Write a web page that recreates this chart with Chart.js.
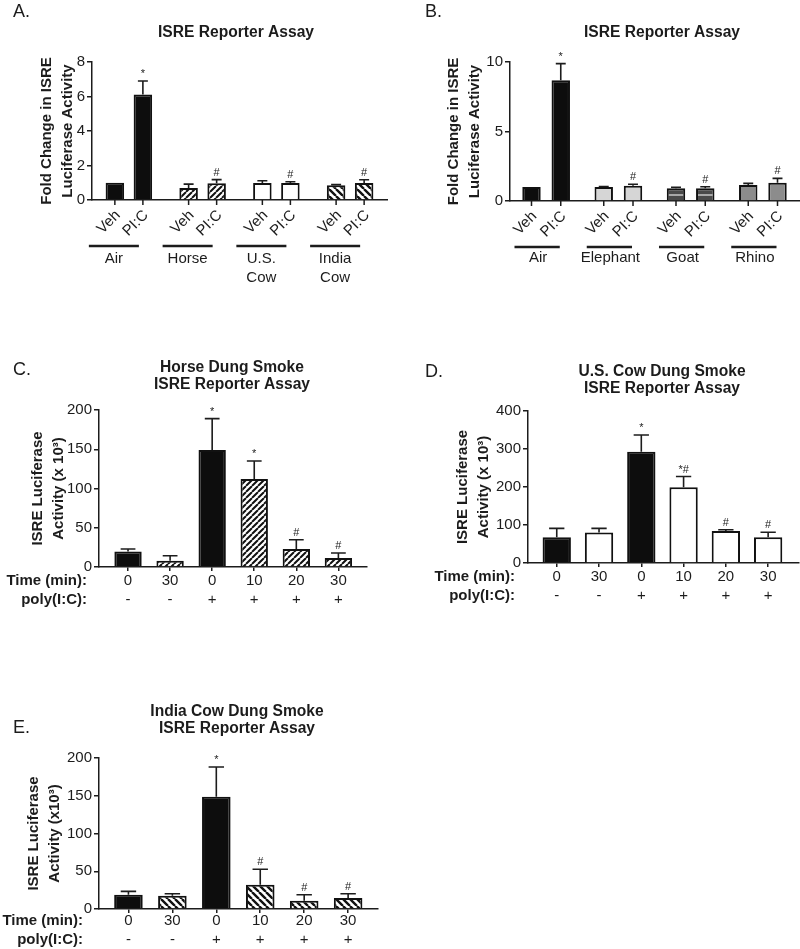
<!DOCTYPE html>
<html><head><meta charset="utf-8">
<script src="https://cdn.jsdelivr.net/npm/chart.js@4.4.0/dist/chart.umd.min.js"></script>
<style>
html,body{margin:0;padding:0;background:#fff;}
#wrap{position:relative;width:800px;height:949px;overflow:hidden;background:#fff;}
canvas{position:absolute;}
</style></head><body>
<div id="wrap">
<canvas id="cA" width="400" height="290" style="left:0;top:0;width:400px;height:290px"></canvas>
<canvas id="cB" width="400" height="290" style="left:400px;top:0;width:400px;height:290px"></canvas>
<canvas id="cC" width="400" height="320" style="left:0;top:300px;width:400px;height:320px"></canvas>
<canvas id="cD" width="400" height="320" style="left:400px;top:300px;width:400px;height:320px"></canvas>
<canvas id="cE" width="400" height="309" style="left:0;top:640px;width:400px;height:309px"></canvas>
</div>
<script>
// ================= DATA =================
const treatLabels = ['Veh', 'PI:C'];

// Panel A
const groupsA = ['Air', 'Horse', ['U.S.', 'Cow'], ['India', 'Cow']];
const vehA = [1.0, 0.70, 0.98, 0.85];
const vehErrA = [0, 0.22, 0.14, 0.04];
const picA = [6.12, 0.97, 0.98, 0.98];
const picErrA = [0.78, 0.21, 0.08, 0.19];
const vehSigA = ['', '', '', ''];
const picSigA = ['*', '#', '#', '#'];
const yTicksA = [0, 2, 4, 6, 8];

// Panel B
const groupsB = ['Air', 'Elephant', 'Goat', 'Rhino'];
const vehB = [1.0, 1.0, 0.91, 1.15];
const vehErrB = [0, 0.04, 0.08, 0.12];
const picB = [8.68, 1.10, 0.91, 1.32];
const picErrB = [1.20, 0.10, 0.12, 0.31];
const vehSigB = ['', '', '', ''];
const picSigB = ['*', '#', '#', '#'];
const yTicksB = [0, 5, 10];

// Panels C, D, E (shared x labels)
const timeLabels = ['0', '30', '0', '10', '20', '30'];
const polyLabels = ['-', '-', '+', '+', '+', '+'];

const valuesC = [19.9, 8.1, 149, 112, 22.9, 11.4];
const errC = [3.0, 6.3, 40, 23, 11.8, 6.4];
const sigC = ['', '', '*', '*', '#', '#'];
const yTicksC = [0, 50, 100, 150, 200];

const valuesD = [68, 80.5, 293, 199.5, 84, 68];
const errD = [23, 10.5, 44, 28, 3.5, 13];
const sigD = ['', '', '*', '*#', '#', '#'];
const yTicksD = [0, 100, 200, 300, 400];

const valuesE = [18.9, 17.6, 148.6, 32, 11, 14.5];
const errE = [4.4, 2.6, 39.4, 20.7, 7.9, 5.7];
const sigE = ['', '', '*', '#', '#', '#'];
const yTicksE = [0, 50, 100, 150, 200];

// ================= STYLE =================
const FONT = "'Liberation Sans', Arial, Helvetica, sans-serif";
const INK = '#1c1c1c';
const EDGE = '#111111';
const BLACK = '#0d0d0d';
Chart.defaults.font.family = FONT;
Chart.defaults.color = INK;

function hatch(dir, size, lw) {
  const c = document.createElement('canvas');
  c.width = size; c.height = size;
  const g = c.getContext('2d');
  g.fillStyle = '#ffffff'; g.fillRect(0, 0, size, size);
  g.strokeStyle = '#111111'; g.lineWidth = lw;
  g.beginPath();
  for (let k = -1; k <= 1; k++) {
    if (dir === '/') { g.moveTo(k * size, size); g.lineTo(k * size + size, 0); }
    else { g.moveTo(k * size, 0); g.lineTo(k * size + size, size); }
  }
  g.stroke();
  return g.createPattern(c, 'repeat');
}
function stripes() {
  const c = document.createElement('canvas');
  c.width = 6; c.height = 6;
  const g = c.getContext('2d');
  g.fillStyle = '#4a4a4a'; g.fillRect(0, 0, 6, 6);
  g.fillStyle = '#a8a8a8'; g.fillRect(0, 2, 6, 2);
  return g.createPattern(c, 'repeat');
}
const FWD = hatch('/', 6, 2);
const BACK = hatch('\\', 7, 2.4);
const GOAT = stripes();
const LIGHT = '#d6d6d6';
const MID = '#8c8c8c';
const WHITE = '#ffffff';

// ================= PLUGINS =================
const errPlugin = {
  id: 'errbars',
  afterDatasetsDraw(chart) {
    const ctx = chart.ctx, ys = chart.scales.y;
    chart.data.datasets.forEach((ds, di) => {
      const meta = chart.getDatasetMeta(di);
      meta.data.forEach((el, i) => {
        const raw = ds.data[i];
        const v = (typeof raw === 'object') ? raw.y : raw;
        const e = ds.errors ? ds.errors[i] : 0;
        const top = ys.getPixelForValue(v + e);
        ctx.save();
        if (e > 0) {
          const hw = el.width * 0.27;
          ctx.strokeStyle = INK; ctx.lineWidth = 1.6;
          ctx.beginPath();
          ctx.moveTo(el.x, el.y); ctx.lineTo(el.x, top);
          ctx.moveTo(el.x - hw, top); ctx.lineTo(el.x + hw, top);
          ctx.stroke();
        }
        const s = ds.sig ? ds.sig[i] : '';
        if (s) {
          ctx.fillStyle = INK; ctx.font = '11px ' + FONT;
          ctx.textAlign = 'center'; ctx.textBaseline = 'middle';
          ctx.fillText(s, el.x, top - 7);
        }
        ctx.restore();
      });
    });
  }
};

const decor = {
  id: 'decor',
  afterDraw(chart, args, o) {
    const ctx = chart.ctx, ca = chart.chartArea, xs = chart.scales.x;
    ctx.save();
    ctx.fillStyle = INK; ctx.strokeStyle = INK;
    if (o.letter) {
      ctx.font = '18px ' + FONT; ctx.textAlign = 'left'; ctx.textBaseline = 'middle';
      ctx.fillText(o.letter.text, o.letter.x, o.letter.y);
    }
    if (o.title) {
      ctx.font = 'bold 15.6px ' + FONT; ctx.textAlign = 'center'; ctx.textBaseline = 'middle';
      o.title.lines.forEach((t, i) => ctx.fillText(t, o.title.x, o.title.y + i * 17));
    }
    if (o.groups) {
      const metas = [chart.getDatasetMeta(0), chart.getDatasetMeta(1)];
      ctx.lineWidth = 1.5;
      metas.forEach(m => m.data.forEach(el => {
        ctx.beginPath(); ctx.moveTo(el.x, ca.bottom); ctx.lineTo(el.x, ca.bottom + 5); ctx.stroke();
      }));
      ctx.font = '15px ' + FONT; ctx.textAlign = 'right'; ctx.textBaseline = 'middle';
      metas.forEach((m, di) => m.data.forEach(el => {
        ctx.save();
        ctx.translate(el.x + 3, ca.bottom + 13);
        ctx.rotate(-Math.PI / 4);
        ctx.fillText(chart.data.datasets[di].label, 0, 0);
        ctx.restore();
      }));
      ctx.lineWidth = 2.6;
      metas[0].data.forEach((el, i) => {
        const y = ca.bottom + o.groups.dy;
        ctx.beginPath();
        ctx.moveTo(el.x + o.groups.from, y);
        ctx.lineTo(metas[1].data[i].x + o.groups.to, y);
        ctx.stroke();
      });
    }
    if (o.rows) {
      const tl = xs.options.grid.tickLength, pad = xs.options.ticks.padding, lh = 19;
      ctx.font = 'bold 15px ' + FONT; ctx.textAlign = 'right'; ctx.textBaseline = 'middle';
      o.rows.labels.forEach((t, i) => ctx.fillText(t, o.rows.x, ca.bottom + tl + pad + lh / 2 + i * lh));
    }
    ctx.restore();
  }
};

function yAxis(ticksArr, title, titlePad, width) {
  return {
    min: 0, max: ticksArr[ticksArr.length - 1],
    afterBuildTicks: s => { s.ticks = ticksArr.map(v => ({value: v})); },
    ticks: {font: {size: 15}, color: INK, padding: 2},
    grid: {display: true, drawOnChartArea: false, drawTicks: true, tickLength: 5, color: INK, lineWidth: 1.5},
    border: {display: true, color: INK, width: 1.5},
    title: {display: true, text: title, color: INK,
            font: {size: 15, weight: 'bold', lineHeight: '21px'},
            padding: {top: titlePad, bottom: 0}},
    afterFit: s => { s.width = width; }
  };
}

function groupChart(id, o) {
  const ds = (label, data, errors, sig) => ({
    label, data, errors, sig,
    backgroundColor: o.fills, borderColor: EDGE, borderWidth: 2,
    categoryPercentage: o.cat, barPercentage: o.bar
  });
  return new Chart(document.getElementById(id), {
    type: 'bar',
    data: {
      labels: o.groups,
      datasets: [ds(treatLabels[0], o.veh, o.vehErr, o.vehSig), ds(treatLabels[1], o.pic, o.picErr, o.picSig)]
    },
    options: {
      responsive: false, animation: false, devicePixelRatio: 1,
      layout: {padding: {left: 0, top: o.top, right: o.right, bottom: 0}},
      plugins: {legend: {display: false}, tooltip: {enabled: false}, decor: o.decor},
      scales: {
        x: {
          type: 'category',
          grid: {display: false},
          border: {display: true, color: INK, width: 1.5},
          ticks: {font: {size: 15, lineHeight: '19px'}, color: INK, padding: o.labelPad, labelOffset: o.labelOffset,
                  maxRotation: 0, minRotation: 0, autoSkip: false},
          afterFit: s => { s.height = o.xHeight; s.paddingLeft = 0; s.paddingRight = 0; }
        },
        y: yAxis(o.yTicks, ['Fold Change in ISRE', 'Luciferase Activity'], o.titlePad, o.yWidth)
      }
    },
    plugins: [errPlugin, decor]
  });
}

function timeChart(id, o) {
  return new Chart(document.getElementById(id), {
    type: 'bar',
    data: {
      datasets: [{
        label: o.label,
        data: o.values.map((v, i) => ({x: i, y: v})),
        errors: o.errs, sig: o.sig,
        backgroundColor: o.fills, borderColor: EDGE, borderWidth: 2,
        categoryPercentage: 1, barPercentage: o.bar
      }]
    },
    options: {
      responsive: false, animation: false, devicePixelRatio: 1,
      layout: {padding: {left: 0, top: o.top, right: o.right, bottom: 0}},
      plugins: {legend: {display: false}, tooltip: {enabled: false}, decor: o.decor},
      scales: {
        x: {
          type: 'linear', min: o.xMin, max: o.xMax, offset: false,
          afterBuildTicks: s => { s.ticks = timeLabels.map((_, i) => ({value: i})); },
          grid: {display: true, offset: false, drawOnChartArea: false, drawTicks: true, tickLength: 4, color: INK, lineWidth: 1.5},
          border: {display: true, color: INK, width: 1.5},
          ticks: {font: {size: 15, lineHeight: '19px'}, color: INK, padding: o.xPad,
                  maxRotation: 0, minRotation: 0, autoSkip: false,
                  callback: v => [timeLabels[v], polyLabels[v]]},
          afterFit: s => { s.height = o.xHeight; s.paddingLeft = 0; s.paddingRight = 0; }
        },
        y: yAxis(o.yTicks, o.yTitle, o.titlePad, o.yWidth)
      }
    },
    plugins: [errPlugin, decor]
  });
}

// ================= CHARTS =================
groupChart('cA', {
  groups: groupsA, veh: vehA, vehErr: vehErrA, vehSig: vehSigA, pic: picA, picErr: picErrA, picSig: picSigA,
  fills: [BLACK, FWD, WHITE, BACK], cat: 0.76, bar: 0.66,
  top: 62, right: 13, xHeight: 90, yWidth: 92, titlePad: 36.5, labelOffset: -15, labelPad: 41, yTicks: yTicksA,
  decor: {letter: {text: 'A.', x: 13, y: 12}, title: {lines: ['ISRE Reporter Assay'], x: 236, y: 33},
          groups: {from: -26, to: -4, dy: 46}}
});

groupChart('cB', {
  groups: groupsB, veh: vehB, vehErr: vehErrB, vehSig: vehSigB, pic: picB, picErr: picErrB, picSig: picSigB,
  fills: [BLACK, LIGHT, GOAT, MID], cat: 0.81, bar: 0.63,
  top: 62, right: 1, xHeight: 89, yWidth: 110, titlePad: 43, labelOffset: -8, labelPad: 39, yTicks: yTicksB,
  decor: {letter: {text: 'B.', x: 25, y: 12}, title: {lines: ['ISRE Reporter Assay'], x: 262, y: 33},
          groups: {from: -17, to: -1, dy: 46}}
});

const rowLabels = ['Time (min):', 'poly(I:C):'];

timeChart('cC', {
  label: 'Horse Dung Smoke', values: valuesC, errs: errC, sig: sigC,
  fills: [BLACK, FWD, BLACK, FWD, FWD, FWD], bar: 0.65,
  top: 110, right: 33, xHeight: 53, yWidth: 99, xMin: -0.69, xMax: 5.68, xPad: 0,
  yTicks: yTicksC, yTitle: ['ISRE Luciferase', 'Activity (x 10³)'], titlePad: 27.5,
  decor: {letter: {text: 'C.', x: 13, y: 70}, title: {lines: ['Horse Dung Smoke', 'ISRE Reporter Assay'], x: 232, y: 68},
          rows: {labels: rowLabels, x: 87}}
});

timeChart('cD', {
  label: 'U.S. Cow Dung Smoke', values: valuesD, errs: errD, sig: sigD,
  fills: [BLACK, WHITE, BLACK, WHITE, WHITE, WHITE], bar: 0.67,
  top: 111, right: 1, xHeight: 57, yWidth: 128, xMin: -0.68, xMax: 5.73, xPad: 0,
  yTicks: yTicksD, yTitle: ['ISRE Luciferase', 'Activity (x 10³)'], titlePad: 52.5,
  decor: {letter: {text: 'D.', x: 25, y: 72}, title: {lines: ['U.S. Cow Dung Smoke', 'ISRE Reporter Assay'], x: 262, y: 72},
          rows: {labels: rowLabels, x: 115}}
});

timeChart('cE', {
  label: 'India Cow Dung Smoke', values: valuesE, errs: errE, sig: sigE,
  fills: [BLACK, BACK, BLACK, BACK, BACK, BACK], bar: 0.65,
  top: 118, right: 22, xHeight: 40, yWidth: 99, xMin: -0.67, xMax: 5.68, xPad: -2,
  yTicks: yTicksE, yTitle: ['ISRE Luciferase', 'Activity (x10³)'], titlePad: 23.5,
  decor: {letter: {text: 'E.', x: 13, y: 88}, title: {lines: ['India Cow Dung Smoke', 'ISRE Reporter Assay'], x: 237, y: 72},
          rows: {labels: rowLabels, x: 83}}
});
</script>
</body></html>
